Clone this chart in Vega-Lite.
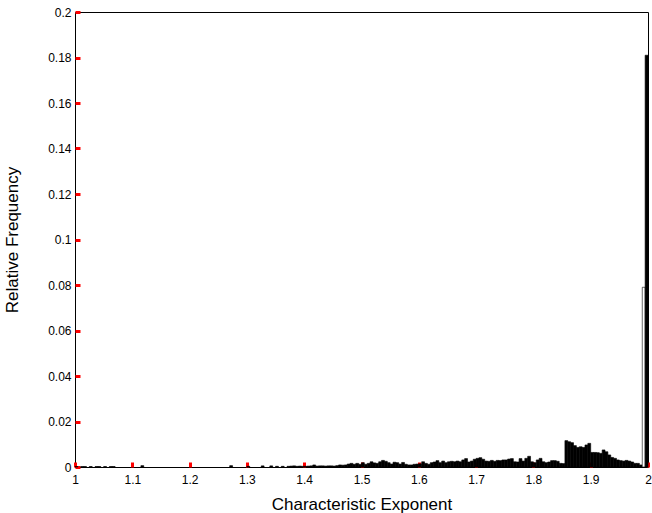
{
  "$schema": "https://vega.github.io/schema/vega-lite/v6.json",
  "width": 573,
  "height": 455,
  "autosize": "none",
  "padding": {"left": 75, "top": 12, "right": 4, "bottom": 46},
  "background": "white",
  "config": {
    "font": "Liberation Sans",
    "view": {"stroke": "black", "strokeWidth": 1},
    "axis": {
      "labelColor": "black", "titleColor": "black",
      "labelFontSize": 12, "titleFontSize": 17, "titleFontWeight": "normal",
      "labelFont": "Liberation Sans", "titleFont": "Liberation Sans",
      "grid": false, "labelFlush": false
    }
  },
  "data": {"values": [
    {"bin_start": 1.0, "bin_end": 1.005, "freq": 0.0002},
    {"bin_start": 1.01, "bin_end": 1.015, "freq": 0.0002},
    {"bin_start": 1.015, "bin_end": 1.02, "freq": 0.0002},
    {"bin_start": 1.025, "bin_end": 1.03, "freq": 0.0002},
    {"bin_start": 1.035, "bin_end": 1.04, "freq": 0.0002},
    {"bin_start": 1.04, "bin_end": 1.045, "freq": 0.0002},
    {"bin_start": 1.05, "bin_end": 1.055, "freq": 0.0002},
    {"bin_start": 1.06, "bin_end": 1.065, "freq": 0.0002},
    {"bin_start": 1.065, "bin_end": 1.07, "freq": 0.0002},
    {"bin_start": 1.115, "bin_end": 1.12, "freq": 0.0006},
    {"bin_start": 1.27, "bin_end": 1.275, "freq": 0.0006},
    {"bin_start": 1.3, "bin_end": 1.305, "freq": 0.0003},
    {"bin_start": 1.325, "bin_end": 1.33, "freq": 0.0005},
    {"bin_start": 1.34, "bin_end": 1.345, "freq": 0.0005},
    {"bin_start": 1.35, "bin_end": 1.355, "freq": 0.0003},
    {"bin_start": 1.36, "bin_end": 1.365, "freq": 0.0003},
    {"bin_start": 1.37, "bin_end": 1.375, "freq": 0.0003},
    {"bin_start": 1.375, "bin_end": 1.38, "freq": 0.0004},
    {"bin_start": 1.38, "bin_end": 1.385, "freq": 0.0005},
    {"bin_start": 1.385, "bin_end": 1.39, "freq": 0.0003},
    {"bin_start": 1.39, "bin_end": 1.395, "freq": 0.0004},
    {"bin_start": 1.395, "bin_end": 1.4, "freq": 0.0003},
    {"bin_start": 1.4, "bin_end": 1.405, "freq": 0.0003},
    {"bin_start": 1.405, "bin_end": 1.41, "freq": 0.0004},
    {"bin_start": 1.41, "bin_end": 1.415, "freq": 0.0005},
    {"bin_start": 1.415, "bin_end": 1.42, "freq": 0.0009},
    {"bin_start": 1.42, "bin_end": 1.425, "freq": 0.0004},
    {"bin_start": 1.425, "bin_end": 1.43, "freq": 0.0005},
    {"bin_start": 1.43, "bin_end": 1.435, "freq": 0.0005},
    {"bin_start": 1.435, "bin_end": 1.44, "freq": 0.0004},
    {"bin_start": 1.44, "bin_end": 1.445, "freq": 0.0005},
    {"bin_start": 1.445, "bin_end": 1.45, "freq": 0.0005},
    {"bin_start": 1.45, "bin_end": 1.455, "freq": 0.0004},
    {"bin_start": 1.455, "bin_end": 1.46, "freq": 0.0006},
    {"bin_start": 1.46, "bin_end": 1.465, "freq": 0.0009},
    {"bin_start": 1.465, "bin_end": 1.47, "freq": 0.0008},
    {"bin_start": 1.47, "bin_end": 1.475, "freq": 0.0009},
    {"bin_start": 1.475, "bin_end": 1.48, "freq": 0.0013},
    {"bin_start": 1.48, "bin_end": 1.485, "freq": 0.0016},
    {"bin_start": 1.485, "bin_end": 1.49, "freq": 0.0012},
    {"bin_start": 1.49, "bin_end": 1.495, "freq": 0.0016},
    {"bin_start": 1.495, "bin_end": 1.5, "freq": 0.0012},
    {"bin_start": 1.5, "bin_end": 1.505, "freq": 0.0019},
    {"bin_start": 1.505, "bin_end": 1.51, "freq": 0.0012},
    {"bin_start": 1.51, "bin_end": 1.515, "freq": 0.0016},
    {"bin_start": 1.515, "bin_end": 1.52, "freq": 0.0023},
    {"bin_start": 1.52, "bin_end": 1.525, "freq": 0.0018},
    {"bin_start": 1.525, "bin_end": 1.53, "freq": 0.0016},
    {"bin_start": 1.53, "bin_end": 1.535, "freq": 0.0023},
    {"bin_start": 1.535, "bin_end": 1.54, "freq": 0.0029},
    {"bin_start": 1.54, "bin_end": 1.545, "freq": 0.0025},
    {"bin_start": 1.545, "bin_end": 1.55, "freq": 0.0019},
    {"bin_start": 1.55, "bin_end": 1.555, "freq": 0.0013},
    {"bin_start": 1.555, "bin_end": 1.56, "freq": 0.0021},
    {"bin_start": 1.56, "bin_end": 1.565, "freq": 0.0019},
    {"bin_start": 1.565, "bin_end": 1.57, "freq": 0.0013},
    {"bin_start": 1.57, "bin_end": 1.575, "freq": 0.002},
    {"bin_start": 1.575, "bin_end": 1.58, "freq": 0.0012},
    {"bin_start": 1.58, "bin_end": 1.585, "freq": 0.0009},
    {"bin_start": 1.585, "bin_end": 1.59, "freq": 0.0009},
    {"bin_start": 1.59, "bin_end": 1.595, "freq": 0.0012},
    {"bin_start": 1.595, "bin_end": 1.6, "freq": 0.0013},
    {"bin_start": 1.6, "bin_end": 1.605, "freq": 0.0014},
    {"bin_start": 1.605, "bin_end": 1.61, "freq": 0.0023},
    {"bin_start": 1.61, "bin_end": 1.615, "freq": 0.0016},
    {"bin_start": 1.615, "bin_end": 1.62, "freq": 0.0012},
    {"bin_start": 1.62, "bin_end": 1.625, "freq": 0.0019},
    {"bin_start": 1.625, "bin_end": 1.63, "freq": 0.0022},
    {"bin_start": 1.63, "bin_end": 1.635, "freq": 0.0028},
    {"bin_start": 1.635, "bin_end": 1.64, "freq": 0.0019},
    {"bin_start": 1.64, "bin_end": 1.645, "freq": 0.0026},
    {"bin_start": 1.645, "bin_end": 1.65, "freq": 0.0019},
    {"bin_start": 1.65, "bin_end": 1.655, "freq": 0.0023},
    {"bin_start": 1.655, "bin_end": 1.66, "freq": 0.0025},
    {"bin_start": 1.66, "bin_end": 1.665, "freq": 0.0023},
    {"bin_start": 1.665, "bin_end": 1.67, "freq": 0.0026},
    {"bin_start": 1.67, "bin_end": 1.675, "freq": 0.0023},
    {"bin_start": 1.675, "bin_end": 1.68, "freq": 0.0031},
    {"bin_start": 1.68, "bin_end": 1.685, "freq": 0.0037},
    {"bin_start": 1.685, "bin_end": 1.69, "freq": 0.0022},
    {"bin_start": 1.69, "bin_end": 1.695, "freq": 0.0026},
    {"bin_start": 1.695, "bin_end": 1.7, "freq": 0.0034},
    {"bin_start": 1.7, "bin_end": 1.705, "freq": 0.0038},
    {"bin_start": 1.705, "bin_end": 1.71, "freq": 0.0041},
    {"bin_start": 1.71, "bin_end": 1.715, "freq": 0.0034},
    {"bin_start": 1.715, "bin_end": 1.72, "freq": 0.0026},
    {"bin_start": 1.72, "bin_end": 1.725, "freq": 0.0025},
    {"bin_start": 1.725, "bin_end": 1.73, "freq": 0.0029},
    {"bin_start": 1.73, "bin_end": 1.735, "freq": 0.0025},
    {"bin_start": 1.735, "bin_end": 1.74, "freq": 0.0029},
    {"bin_start": 1.74, "bin_end": 1.745, "freq": 0.0028},
    {"bin_start": 1.745, "bin_end": 1.75, "freq": 0.0031},
    {"bin_start": 1.75, "bin_end": 1.755, "freq": 0.0031},
    {"bin_start": 1.755, "bin_end": 1.76, "freq": 0.0035},
    {"bin_start": 1.76, "bin_end": 1.765, "freq": 0.0037},
    {"bin_start": 1.765, "bin_end": 1.77, "freq": 0.0023},
    {"bin_start": 1.77, "bin_end": 1.775, "freq": 0.0022},
    {"bin_start": 1.775, "bin_end": 1.78, "freq": 0.0037},
    {"bin_start": 1.78, "bin_end": 1.785, "freq": 0.0026},
    {"bin_start": 1.785, "bin_end": 1.79, "freq": 0.0038},
    {"bin_start": 1.79, "bin_end": 1.795, "freq": 0.0047},
    {"bin_start": 1.795, "bin_end": 1.8, "freq": 0.0023},
    {"bin_start": 1.8, "bin_end": 1.805, "freq": 0.0019},
    {"bin_start": 1.805, "bin_end": 1.81, "freq": 0.0031},
    {"bin_start": 1.81, "bin_end": 1.815, "freq": 0.0038},
    {"bin_start": 1.815, "bin_end": 1.82, "freq": 0.0023},
    {"bin_start": 1.82, "bin_end": 1.825, "freq": 0.0019},
    {"bin_start": 1.825, "bin_end": 1.83, "freq": 0.0022},
    {"bin_start": 1.83, "bin_end": 1.835, "freq": 0.0028},
    {"bin_start": 1.835, "bin_end": 1.84, "freq": 0.0028},
    {"bin_start": 1.84, "bin_end": 1.845, "freq": 0.0025},
    {"bin_start": 1.845, "bin_end": 1.85, "freq": 0.0016},
    {"bin_start": 1.85, "bin_end": 1.855, "freq": 0.0015},
    {"bin_start": 1.855, "bin_end": 1.86, "freq": 0.0116},
    {"bin_start": 1.86, "bin_end": 1.865, "freq": 0.0111},
    {"bin_start": 1.865, "bin_end": 1.87, "freq": 0.0107},
    {"bin_start": 1.87, "bin_end": 1.875, "freq": 0.0094},
    {"bin_start": 1.875, "bin_end": 1.88, "freq": 0.0086},
    {"bin_start": 1.88, "bin_end": 1.885, "freq": 0.0089},
    {"bin_start": 1.885, "bin_end": 1.89, "freq": 0.0086},
    {"bin_start": 1.89, "bin_end": 1.895, "freq": 0.0097},
    {"bin_start": 1.895, "bin_end": 1.9, "freq": 0.0104},
    {"bin_start": 1.9, "bin_end": 1.905, "freq": 0.0064},
    {"bin_start": 1.905, "bin_end": 1.91, "freq": 0.0064},
    {"bin_start": 1.91, "bin_end": 1.915, "freq": 0.0063},
    {"bin_start": 1.915, "bin_end": 1.92, "freq": 0.006},
    {"bin_start": 1.92, "bin_end": 1.925, "freq": 0.0075},
    {"bin_start": 1.925, "bin_end": 1.93, "freq": 0.0067},
    {"bin_start": 1.93, "bin_end": 1.935, "freq": 0.0053},
    {"bin_start": 1.935, "bin_end": 1.94, "freq": 0.0042},
    {"bin_start": 1.94, "bin_end": 1.945, "freq": 0.0038},
    {"bin_start": 1.945, "bin_end": 1.95, "freq": 0.0031},
    {"bin_start": 1.95, "bin_end": 1.955, "freq": 0.0028},
    {"bin_start": 1.955, "bin_end": 1.96, "freq": 0.0026},
    {"bin_start": 1.96, "bin_end": 1.965, "freq": 0.0029},
    {"bin_start": 1.965, "bin_end": 1.97, "freq": 0.0026},
    {"bin_start": 1.97, "bin_end": 1.975, "freq": 0.0022},
    {"bin_start": 1.975, "bin_end": 1.98, "freq": 0.0016},
    {"bin_start": 1.98, "bin_end": 1.985, "freq": 0.0016},
    {"bin_start": 1.985, "bin_end": 1.99, "freq": 0.0009},
    {"bin_start": 1.99, "bin_end": 1.995, "freq": 0.079},
    {"bin_start": 1.995, "bin_end": 2.0, "freq": 0.181}
  ]},
  "mark": {"type": "bar", "stroke": "black", "strokeWidth": 0.6},
  "encoding": {
    "x": {
      "field": "bin_start", "type": "quantitative",
      "scale": {"domain": [1, 2], "nice": false, "zero": false},
      "axis": {
        "tickCount": 10,
        "format": "~g",
        "title": "Characteristic Exponent",
        "domain": false,
        "tickSize": 5, "tickColor": "red", "tickWidth": 3, "offset": -5,
        "labelPadding": 7,
        "titlePadding": 11
      }
    },
    "x2": {"field": "bin_end"},
    "y": {
      "field": "freq", "type": "quantitative",
      "scale": {"domain": [0, 0.2], "nice": false},
      "axis": {
        "tickCount": 10,
        "format": "~g",
        "title": "Relative Frequency",
        "domain": false,
        "tickSize": 5, "tickColor": "red", "tickWidth": 3, "offset": -5,
        "labelPadding": 4,
        "titlePadding": 26
      }
    },
    "y2": {"datum": 0},
    "color": {
      "condition": {"test": "datum.freq > 0.05 && datum.freq < 0.1", "value": "white"},
      "value": "black"
    }
  }
}
